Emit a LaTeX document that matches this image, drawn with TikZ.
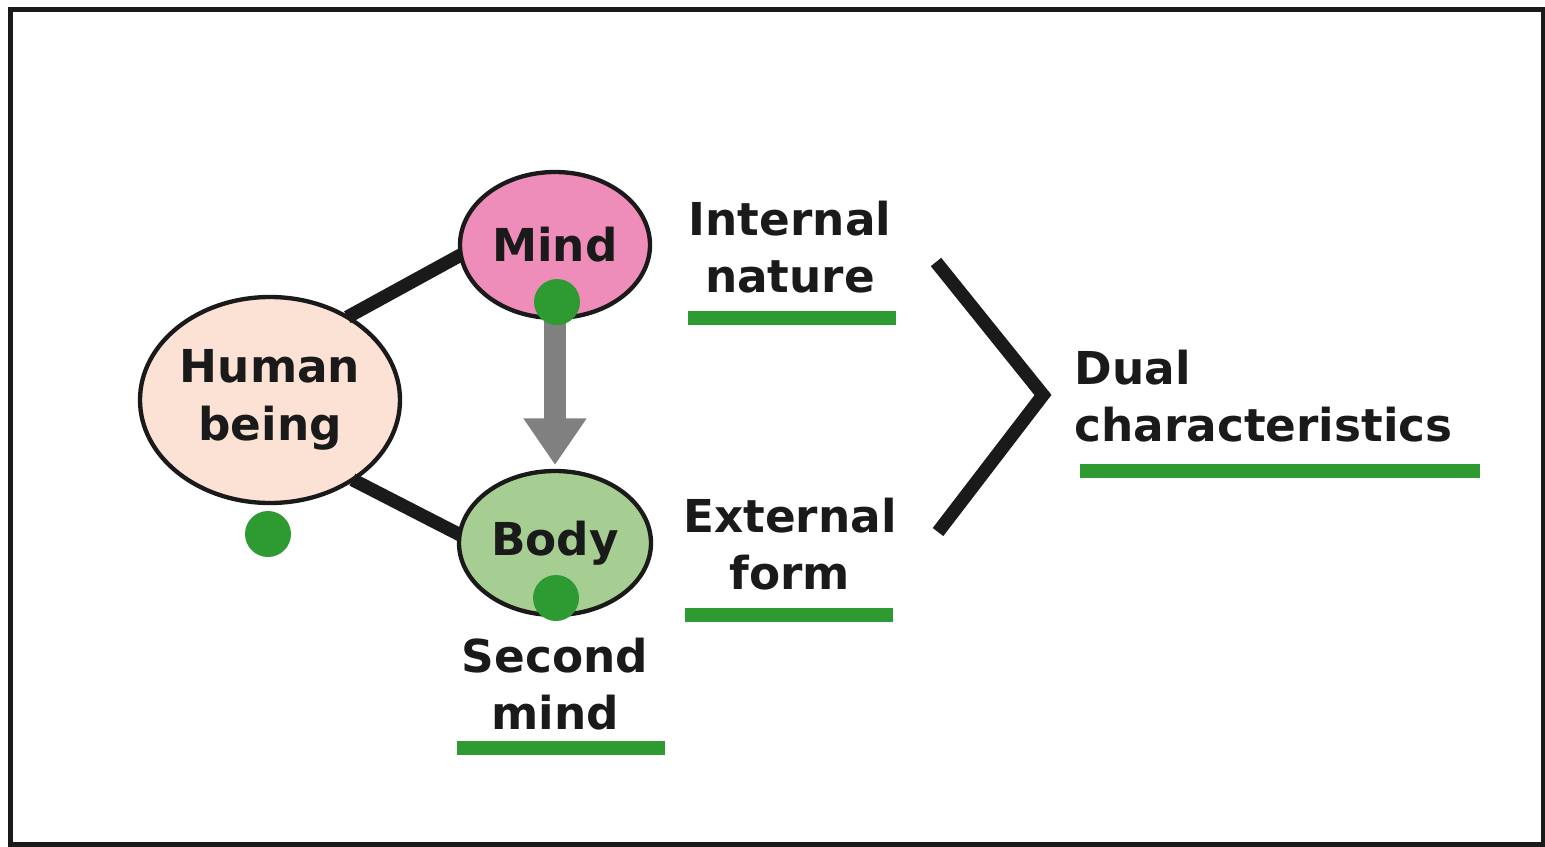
\documentclass[tikz,border=0pt]{standalone}
\usepackage{fontspec}
\setmainfont{DejaVu Sans}
\usetikzlibrary{shapes.geometric,arrows.meta}

\definecolor{peach}{RGB}{251,226,212}
\definecolor{mindpink}{RGB}{239,141,186}
\definecolor{bodygreen}{RGB}{166,206,146}
\definecolor{dotgreen}{RGB}{46,154,50}
\definecolor{arrowgray}{RGB}{128,128,128}
\definecolor{inkblack}{RGB}{26,26,26}

\tikzset{every picture/.style={line width=0.75pt}}
\tikzset{
  bigtext/.style={font=\bfseries\fontsize{34}{43}\selectfont, text=inkblack, inner sep=0.75pt},
  bubble/.style={ellipse, draw=inkblack, line width=3.25pt, inner sep=0pt, outer sep=0pt, bigtext},
  link/.style={draw=inkblack, line width=10pt},
  greendot/.style={circle, fill=dotgreen, minimum size=34.5pt, inner sep=0pt},
  underbar/.style={draw=dotgreen, line width=10.5pt},
}

\begin{document}
\begin{tikzpicture}[x=0.75pt,y=0.75pt,yscale=-1,xscale=1]
    \useasboundingbox (0,0) rectangle (1545,846);

    %Shape: Rectangle [frame]
    \draw [draw=inkblack, line width=3.75pt] (10.5,9.5) rectangle (1543,844);

    %Shape: Ellipse [human]
    \node [bubble, fill=peach, minimum width=195pt, minimum height=154.5pt, align=center] (human) at (270,400) {Human\\being};
    %Shape: Ellipse [mind]
    \node [bubble, fill=mindpink, minimum width=142.5pt, minimum height=109.5pt] (mind) at (555,245) {Mind};
    %Shape: Ellipse [body]
    \node [bubble, fill=bodygreen, minimum width=144pt, minimum height=108pt] (body) at (555,543) {Body};

    %Straight Lines
    \draw [link] (human.47) -- (mind.186);
    \draw [link] (human.316) -- (body.175);
    %Arrow Mind -> Body
    \draw [draw=arrowgray, line width=16.5pt, -{Triangle[width=45pt,length=35pt]}, shorten >=4.5pt] (mind.south) -- (body.north);

    %Shape: Circle [dots]
    \node [greendot] (dotmind) at (557,302) {};
    \node [greendot] (dothuman) at (268,534) {};
    \node [greendot] (dotbody) at (556,598) {};

    % Text Node
    \node [bigtext, align=center] (internal) at (790,247) {Internal\\nature};
    % Text Node
    \node [bigtext, align=center] (external) at (790,544) {External\\form};
    % Text Node
    \node [bigtext, align=center] (second) at (555,684) {Second\\mind};
    % Text Node
    \node [bigtext, align=left, anchor=west] (dual) at (1073,396) {Dual\\characteristics};

    %Straight Lines [underlines]
    \draw [underbar] (688,318) -- (896,318);
    \draw [underbar] (685,615) -- (893,615);
    \draw [underbar] (457,748) -- (665,748);
    \draw [underbar] (1080,471) -- (1480,471);

    %Shape: Chevron
    \coordinate (chevtop) at (936,262);
    \coordinate (chevtip) at (1043,395);
    \coordinate (chevbot) at (938,532);
    \draw [draw=inkblack, line width=10pt, miter limit=10] (chevtop) -- (chevtip) -- (chevbot);

\end{tikzpicture}
\end{document}
